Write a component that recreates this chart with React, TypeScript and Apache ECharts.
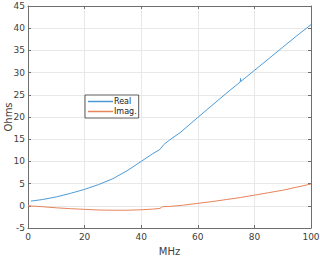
import React, { useEffect, useRef } from "react";
import * as echarts from "echarts";

const realMHz = [1, 5, 10, 15, 20, 25, 30, 35, 40, 44, 46.6, 48, 50, 54, 60, 65, 70, 75, 75.1, 75.2, 80, 85, 90, 95, 100];
const realOhms = [1.05, 1.4, 2.0, 2.8, 3.7, 4.8, 6.1, 7.9, 10.0, 11.7, 12.7, 13.8, 14.8, 16.6, 19.9, 22.6, 25.3, 27.9, 28.7, 28.0, 30.5, 33.1, 35.7, 38.3, 40.8];
const imagMHz = [0, 5, 10, 15, 20, 25, 30, 35, 40, 44, 46.6, 47.5, 50, 55, 60, 65, 70, 75, 80, 85, 90, 95, 100];
const imagOhms = [0, -0.2, -0.45, -0.65, -0.8, -0.95, -1.0, -1.0, -0.9, -0.75, -0.6, -0.2, -0.15, 0.15, 0.55, 0.95, 1.4, 1.85, 2.4, 2.95, 3.5, 4.2, 4.9];
const seriesNames = ["Real", "Imag."];
const xLabel = "MHz";
const yLabel = "Ohms";

const FONT = "DejaVu Sans";
const TXT = "#404040";
const AX = "#6e6e6e";

export default function App() {
  const ref = useRef<HTMLDivElement>(null);
  useEffect(() => {
    const chart = echarts.init(ref.current!, null, { renderer: "svg" });
    const hiddenAxis = {
      axisLine: { show: true, onZero: false, lineStyle: { color: AX, width: 1 } },
      axisTick: { show: true, inside: true, length: 3, lineStyle: { color: AX } },
      axisLabel: { show: false },
      splitLine: { show: false },
    };
    chart.setOption({
      animation: false,
      textStyle: { fontFamily: FONT },
      grid: { left: 28, right: 9, top: 6, bottom: 29, containLabel: false, outerBoundsMode: "none" },
      legend: {
        orient: "vertical",
        left: 85,
        top: 95,
        itemWidth: 25,
        itemHeight: 1.5,
        itemGap: 1,
        icon: "rect",
        padding: [2, 2, 2, 3],
        borderColor: "#333",
        borderWidth: 0.8,
        backgroundColor: "#fff",
        borderRadius: 0,
        textStyle: { fontFamily: FONT, fontSize: 8, color: "#222", padding: [0, 0, 0, -4], lineHeight: 9 },
        data: seriesNames,
      },
      xAxis: [
        {
          type: "value",
          min: 0,
          max: 100,
          interval: 20,
          name: xLabel,
          nameLocation: "middle",
          nameGap: 18,
          nameMoveOverlap: false,
          nameTextStyle: { fontFamily: FONT, fontSize: 10, color: TXT },
          axisLine: { show: true, onZero: false, lineStyle: { color: AX, width: 1 } },
          axisTick: { show: true, inside: true, length: 3, lineStyle: { color: AX } },
          axisLabel: { fontFamily: FONT, fontSize: 9, color: TXT, margin: 4 },
          splitLine: { show: true, lineStyle: { color: "#e8e8e8", width: 1 } },
        },
        { type: "value", position: "top", min: 0, max: 100, interval: 20, ...hiddenAxis },
      ],
      yAxis: [
        {
          type: "value",
          min: -5,
          max: 45,
          interval: 5,
          name: yLabel,
          nameLocation: "middle",
          nameGap: 15,
          nameMoveOverlap: false,
          nameTextStyle: { fontFamily: FONT, fontSize: 10, color: TXT },
          axisLine: { show: true, onZero: false, lineStyle: { color: AX, width: 1 } },
          axisTick: { show: true, inside: true, length: 3, lineStyle: { color: AX } },
          axisLabel: { fontFamily: FONT, fontSize: 9, color: TXT, margin: 3 },
          splitLine: { show: true, lineStyle: { color: "#e8e8e8", width: 1 } },
        },
        { type: "value", position: "right", min: -5, max: 45, interval: 5, ...hiddenAxis },
      ],
      series: [
        {
          name: seriesNames[0],
          type: "line",
          data: realMHz.map((x, i) => [x, realOhms[i]]),
          showSymbol: false,
          lineStyle: { color: "#4c9bd8", width: 1 },
          itemStyle: { color: "#4c9bd8" },
        },
        {
          name: seriesNames[1],
          type: "line",
          data: imagMHz.map((x, i) => [x, imagOhms[i]]),
          showSymbol: false,
          lineStyle: { color: "#e8845a", width: 1 },
          itemStyle: { color: "#e8845a" },
        },
      ],
    });
    return () => chart.dispose();
  }, []);
  return <div ref={ref} style={{ width: 320, height: 257, position: "absolute", left: 0, top: 0 }} />;
}
